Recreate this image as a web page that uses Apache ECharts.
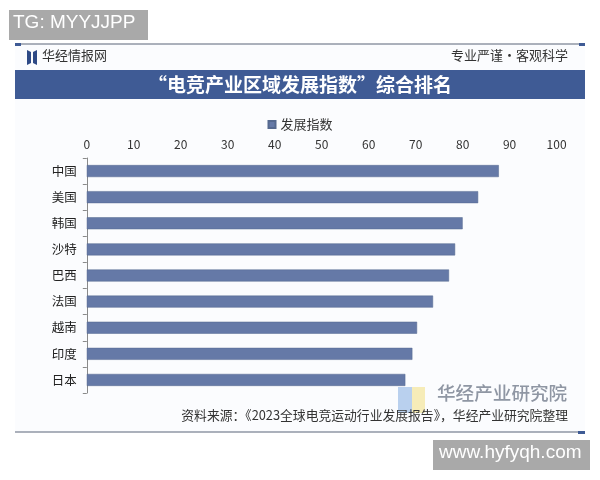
<!DOCTYPE html>
<html>
<head>
<meta charset="utf-8">
<script src="https://cdn.jsdelivr.net/npm/echarts@6/dist/echarts.min.js"></script>
<style>html,body{margin:0;padding:0;background:#fff}#c{width:600px;height:480px}</style>
</head>
<body>
<div id="c"></div>
<script>
const categories = ['中国','美国','韩国','沙特','巴西','法国','越南','印度','日本'];
const values = [87.7, 83.3, 80.0, 78.4, 77.1, 73.7, 70.3, 69.3, 67.8];
const seriesName = '发展指数';
const tickValues = [0,10,20,30,40,50,60,70,80,90,100];

const FONT = '"Noto Sans CJK SC", sans-serif';
const chart = echarts.init(document.getElementById('c'), null, {renderer: 'canvas'});
chart.setOption({
  backgroundColor: '#ffffff',
  textStyle: {fontFamily: FONT},
  animation: false,
  legend: {
    data: [seriesName],
    top: 113, left: 'center',
    itemWidth: 7, itemHeight: 7, itemGap: 4,
    icon: 'rect',
    textStyle: {fontFamily: FONT, fontSize: 13, color: '#333'}
  },
  grid: {left: 86.8, right: 43.4, top: 158, bottom: 87, containLabel: false},
  xAxis: {
    type: 'value', position: 'top', min: 0, max: 100, interval: 10,
    axisLine: {show: false}, axisTick: {show: false}, splitLine: {show: false},
    axisLabel: {color: '#333', fontSize: 12, fontFamily: FONT, margin: 8}
  },
  yAxis: {
    type: 'category', inverse: true, data: categories,
    axisLine: {show: true, lineStyle: {color: '#8a8a8a', width: 1}},
    axisTick: {show: true, length: 4, lineStyle: {color: '#8a8a8a'}},
    axisLabel: {color: '#222', fontSize: 12.5, fontFamily: FONT, margin: 10}
  },
  series: [{
    name: seriesName, type: 'bar', data: values, barWidth: 12,
    itemStyle: {color: '#6579a7', borderColor: '#55698f', borderWidth: 0.5}
  }],
  graphic: [
    {type: 'rect', z: -10, shape: {x: 15, y: 44, width: 570, height: 388}, style: {fill: '#fbfcfe'}},
    {type: 'rect', shape: {x: 9, y: 10, width: 139, height: 30}, style: {fill: '#a9a9a9'}},
    {type: 'text', left: 13, top: 13, style: {text: 'TG: MYYJJPP', fill: '#ffffff', font: '19px "Liberation Sans", Arial, sans-serif'}},
    {type: 'line', shape: {x1: 15, y1: 44, x2: 585, y2: 44}, style: {stroke: '#5a6478', lineWidth: 1.2}},
    {type: 'rect', shape: {x: 15, y: 43, width: 6, height: 3}, style: {fill: '#3f5b95'}},
    {type: 'rect', shape: {x: 579, y: 43, width: 6, height: 3}, style: {fill: '#3f5b95'}},
    {type: 'polygon', shape: {points: [[27,50],[31,52],[31,63],[27,65]]}, style: {fill: '#2e4a86'}},
    {type: 'polygon', shape: {points: [[33,52],[37,50],[37,65],[33,63]]}, style: {fill: '#2e4a86'}},
    {type: 'text', left: 42, top: 49, style: {text: '华经情报网', fill: '#333', font: '13px "Noto Sans CJK SC"'}},
    {type: 'text', right: 32, top: 49, style: {text: '专业严谨•客观科学', fill: '#333', font: '13px "Noto Sans CJK SC"'}},
    {type: 'rect', shape: {x: 15, y: 70, width: 570, height: 29}, style: {fill: '#3f5b95'}},
    {type: 'text', x: 300, y: 85, style: {text: '“电竞产业区域发展指数”综合排名', fill: '#ffffff', font: 'bold 19px "Noto Sans CJK SC"', align: 'center', verticalAlign: 'middle'}},
    {type: 'rect', shape: {x: 398, y: 387, width: 14, height: 26}, style: {fill: '#a9c4ea', opacity: 0.8}},
    {type: 'rect', shape: {x: 412, y: 387, width: 13, height: 26}, style: {fill: '#f5e7a6', opacity: 0.8}},
    {type: 'text', left: 437, top: 384, style: {text: '华经产业研究院', fill: '#8f96a3', font: '500 18.6px "Noto Sans CJK SC"'}},
    {type: 'text', right: 32, top: 409, style: {text: '资料来源：《2023全球电竞运动行业发展报告》，华经产业研究院整理', fill: '#333', font: '12.8px "Noto Sans CJK SC"'}},
    {type: 'line', shape: {x1: 15, y1: 432, x2: 585, y2: 432}, style: {stroke: '#5a6478', lineWidth: 1.2}},
    {type: 'rect', shape: {x: 578, y: 431, width: 7, height: 3}, style: {fill: '#3f5b95'}},
    {type: 'rect', shape: {x: 433, y: 440, width: 157, height: 30}, style: {fill: '#a9a9a9'}},
    {type: 'text', left: 439, top: 443, style: {text: 'www.hyfyqh.com', fill: '#ffffff', font: '19px "Liberation Sans", Arial, sans-serif'}}
  ]
});
</script>
</body>
</html>
